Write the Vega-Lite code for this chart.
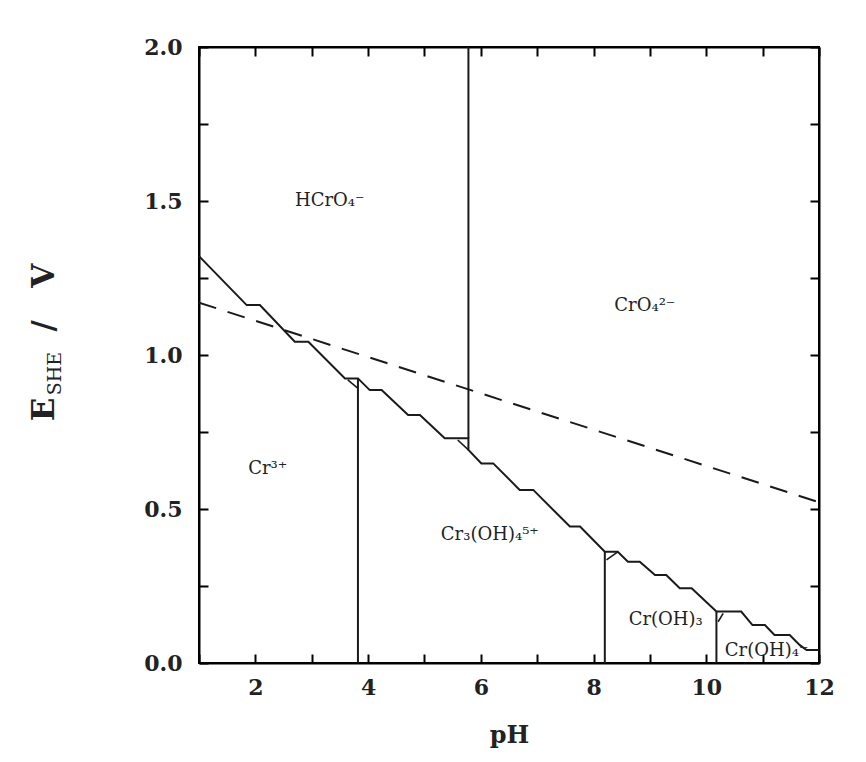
{
  "$schema": "https://vega.github.io/schema/vega-lite/v6.json",
  "autosize": {"type": "none"},
  "width": 620,
  "height": 616,
  "padding": {"left": 199, "top": 47, "right": 47, "bottom": 99},
  "background": "white",
  "config": {
    "view": {"stroke": "black", "strokeWidth": 2},
    "axis": {
      "domainColor": "black", "domainWidth": 2, "tickColor": "black", "tickWidth": 2,
      "grid": false, "labelFont": "DejaVu Serif", "labelFontWeight": "bold",
      "labelFontSize": 22, "labelColor": "#222", "titleFont": "DejaVu Serif",
      "titleFontWeight": "bold", "titleFontSize": 24, "titleColor": "#222"
    }
  },
  "datasets": {
    "bounds": [
      {"s": "main", "i": 1, "pH": 1.0, "E": 1.321},
      {"s": "main", "i": 2, "pH": 1.846, "E": 1.162},
      {"s": "main", "i": 3, "pH": 2.08, "E": 1.162},
      {"s": "main", "i": 4, "pH": 2.70, "E": 1.043},
      {"s": "main", "i": 5, "pH": 2.94, "E": 1.043},
      {"s": "main", "i": 6, "pH": 3.59, "E": 0.924},
      {"s": "main", "i": 7, "pH": 3.82, "E": 0.924},
      {"s": "main", "i": 8, "pH": 4.03, "E": 0.886},
      {"s": "main", "i": 9, "pH": 4.24, "E": 0.886},
      {"s": "main", "i": 10, "pH": 4.71, "E": 0.805},
      {"s": "main", "i": 11, "pH": 4.92, "E": 0.805},
      {"s": "main", "i": 12, "pH": 5.36, "E": 0.730},
      {"s": "main", "i": 13, "pH": 5.78, "E": 0.730},
      {"s": "main", "i": 14, "pH": 5.78, "E": 0.692},
      {"s": "main", "i": 15, "pH": 6.01, "E": 0.648},
      {"s": "main", "i": 16, "pH": 6.22, "E": 0.648},
      {"s": "main", "i": 17, "pH": 6.69, "E": 0.562},
      {"s": "main", "i": 18, "pH": 6.93, "E": 0.562},
      {"s": "main", "i": 19, "pH": 7.58, "E": 0.443},
      {"s": "main", "i": 20, "pH": 7.76, "E": 0.443},
      {"s": "main", "i": 21, "pH": 8.20, "E": 0.361},
      {"s": "main", "i": 22, "pH": 8.43, "E": 0.361},
      {"s": "main", "i": 23, "pH": 8.61, "E": 0.329},
      {"s": "main", "i": 24, "pH": 8.82, "E": 0.329},
      {"s": "main", "i": 25, "pH": 9.09, "E": 0.286},
      {"s": "main", "i": 26, "pH": 9.29, "E": 0.286},
      {"s": "main", "i": 27, "pH": 9.53, "E": 0.243},
      {"s": "main", "i": 28, "pH": 9.74, "E": 0.243},
      {"s": "main", "i": 29, "pH": 10.18, "E": 0.167},
      {"s": "main", "i": 30, "pH": 10.62, "E": 0.167},
      {"s": "main", "i": 31, "pH": 10.82, "E": 0.123},
      {"s": "main", "i": 32, "pH": 11.04, "E": 0.123},
      {"s": "main", "i": 33, "pH": 11.21, "E": 0.091},
      {"s": "main", "i": 34, "pH": 11.48, "E": 0.091},
      {"s": "main", "i": 35, "pH": 11.66, "E": 0.058},
      {"s": "main", "i": 36, "pH": 11.78, "E": 0.042},
      {"s": "main", "i": 37, "pH": 12.0, "E": 0.042},
      {"s": "V1", "i": 1, "pH": 3.82, "E": 0.0},
      {"s": "V1", "i": 2, "pH": 3.82, "E": 0.924},
      {"s": "V2", "i": 1, "pH": 5.78, "E": 0.730},
      {"s": "V2", "i": 2, "pH": 5.78, "E": 2.0},
      {"s": "V3", "i": 1, "pH": 8.20, "E": 0.0},
      {"s": "V3", "i": 2, "pH": 8.20, "E": 0.361},
      {"s": "V4", "i": 1, "pH": 10.18, "E": 0.0},
      {"s": "V4", "i": 2, "pH": 10.18, "E": 0.167}
    ],
    "triangles": [
      {"s": "triA", "i": 1, "pH": 3.64, "E": 0.919},
      {"s": "triA", "i": 2, "pH": 3.82, "E": 0.892},
      {"s": "triB", "i": 1, "pH": 5.59, "E": 0.724},
      {"s": "triB", "i": 2, "pH": 5.78, "E": 0.692},
      {"s": "triC", "i": 1, "pH": 8.23, "E": 0.335},
      {"s": "triC", "i": 2, "pH": 8.43, "E": 0.361},
      {"s": "triD", "i": 1, "pH": 10.21, "E": 0.134},
      {"s": "triD", "i": 2, "pH": 10.30, "E": 0.161}
    ],
    "water": [
      {"pH": 1.0, "E": 1.170},
      {"pH": 12.0, "E": 0.522}
    ],
    "labels": [
      {"t": "HCrO₄⁻", "pH": 3.32, "E": 1.50},
      {"t": "CrO₄²⁻", "pH": 8.91, "E": 1.16},
      {"t": "Cr³⁺", "pH": 2.22, "E": 0.63},
      {"t": "Cr₃(OH)₄⁵⁺", "pH": 6.16, "E": 0.415},
      {"t": "Cr(OH)₃", "pH": 9.28, "E": 0.14},
      {"t": "Cr(OH)₄⁻", "pH": 11.07, "E": 0.04}
    ]
  },
  "layer": [
    {
      "data": {"name": "bounds"},
      "mark": {"type": "line", "color": "#1a1a1a", "strokeWidth": 2, "clip": true},
      "encoding": {
        "x": {"field": "pH", "type": "quantitative", "scale": {"domain": [1, 12], "nice": false, "zero": false},
          "axis": {"orient": "bottom", "title": "pH", "titlePadding": 25, "values": [1,2,3,4,5,6,7,8,9,10,11,12],
            "labelExpr": "datum.value % 2 == 0 ? datum.label : ''", "tickSize": -9, "labelPadding": 23, "labelFlush": false}},
        "y": {"field": "E", "type": "quantitative", "scale": {"domain": [0, 2], "nice": false},
          "axis": {"orient": "left", "title": "E", "titleFontSize": 31, "titleAngle": -90, "titleAlign": "center", "titleBaseline": "alphabetic",
            "titleX": -146, "titleY": 362, "values": [0,0.25,0.5,0.75,1,1.25,1.5,1.75,2],
            "format": ".1f", "labelExpr": "(datum.value * 4) % 2 == 0 ? datum.label : ''", "tickSize": -9, "labelPadding": 26, "labelFlush": false}},
        "detail": {"field": "s"},
        "order": {"field": "i", "type": "quantitative"}
      }
    },
    {
      "data": {"name": "water"},
      "mark": {"type": "line", "color": "#1a1a1a", "strokeWidth": 2, "strokeDash": [18, 12], "clip": true},
      "encoding": {
        "x": {"field": "pH", "type": "quantitative", "scale": {"domain": [1, 12], "nice": false, "zero": false},
          "axis": {"orient": "top", "title": null, "labels": false, "values": [1,2,3,4,5,6,7,8,9,10,11,12], "tickSize": -9}},
        "y": {"field": "E", "type": "quantitative", "scale": {"domain": [0, 2], "nice": false},
          "axis": {"orient": "right", "title": null, "labels": false, "values": [0,0.25,0.5,0.75,1,1.25,1.5,1.75,2], "tickSize": -9}}
      }
    },
    {
      "data": {"name": "triangles"},
      "mark": {"type": "line", "color": "#1a1a1a", "strokeWidth": 1.6, "clip": true},
      "encoding": {
        "x": {"field": "pH", "type": "quantitative", "scale": {"domain": [1, 12], "nice": false, "zero": false}, "axis": null},
        "y": {"field": "E", "type": "quantitative", "scale": {"domain": [0, 2], "nice": false},
          "axis": {"orient": "left", "title": "SHE", "titleFontSize": 19, "titleFontWeight": "normal", "titleAngle": -90, "titleAlign": "center", "titleBaseline": "alphabetic",
            "titleX": -139, "titleY": 326, "labels": false, "ticks": false, "domain": false}},
        "detail": {"field": "s"},
        "order": {"field": "i", "type": "quantitative"}
      }
    },
    {
      "data": {"name": "labels"},
      "mark": {"type": "text", "font": "DejaVu Serif", "fontSize": 18, "color": "#222"},
      "encoding": {
        "x": {"field": "pH", "type": "quantitative", "scale": {"domain": [1, 12], "nice": false, "zero": false}, "axis": null},
        "y": {"field": "E", "type": "quantitative", "scale": {"domain": [0, 2], "nice": false},
          "axis": {"orient": "left", "title": "/\u00a0\u00a0\u00a0V", "titleFontSize": 31, "titleAngle": -90, "titleAlign": "center", "titleBaseline": "alphabetic",
            "titleX": -146, "titleY": 250, "labels": false, "ticks": false, "domain": false}},
        "text": {"field": "t"}
      }
    }
  ],
  "resolve": {"axis": {"x": "independent", "y": "independent"}}
}
